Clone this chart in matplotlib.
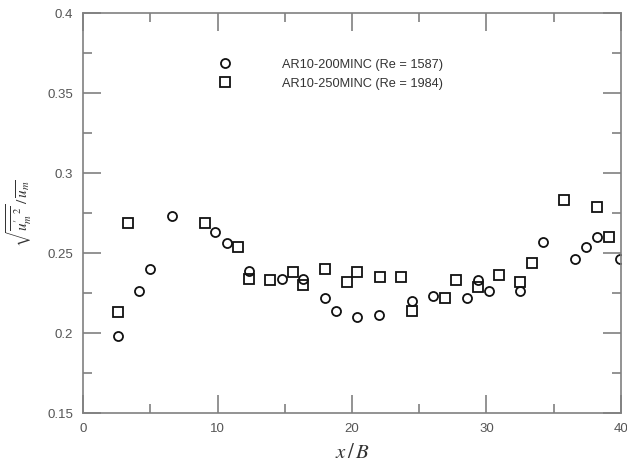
import matplotlib
matplotlib.use("Agg")
import matplotlib.pyplot as plt
from matplotlib.ticker import MultipleLocator, FormatStrFormatter

# AR10-200MINC, Re = 1587 (circles)
x_1587 = [2.6, 4.17, 5.01, 6.63, 9.85, 10.67, 12.33, 14.76, 16.37, 18.0, 18.8, 20.39,
          22.03, 24.48, 26.04, 28.53, 29.35, 30.19, 32.52, 34.23, 36.61, 37.38, 38.2, 39.93]
y_1587 = [0.198, 0.226, 0.240, 0.273, 0.263, 0.256, 0.239, 0.234, 0.234, 0.222, 0.214, 0.210,
          0.211, 0.220, 0.223, 0.222, 0.233, 0.226, 0.226, 0.257, 0.246, 0.254, 0.260, 0.246]

# AR10-250MINC, Re = 1984 (squares)
x_1984 = [2.6, 3.35, 9.05, 11.49, 12.33, 13.89, 15.58, 16.32, 18.0, 19.6, 20.39, 22.07,
          23.66, 24.48, 26.91, 27.73, 29.35, 30.95, 32.52, 33.39, 35.79, 38.25, 39.09]
y_1984 = [0.213, 0.269, 0.269, 0.2535, 0.234, 0.233, 0.238, 0.230, 0.240, 0.232, 0.238, 0.235,
          0.235, 0.214, 0.222, 0.233, 0.229, 0.236, 0.232, 0.244, 0.283, 0.279, 0.260]

label_1587 = "AR10-200MINC (Re = 1587)"
label_1984 = "AR10-250MINC (Re = 1984)"

plt.rcParams["font.family"] = ["Liberation Sans", "DejaVu Sans"]

fig = plt.figure(figsize=(6.27, 4.66), dpi=100)
ax = fig.add_axes([0.1324, 0.1137, 0.858, 0.8584])

mk = dict(linestyle="none", markerfacecolor="none", markeredgecolor="#111111",
          markeredgewidth=1.3, markersize=6.5)
ax.plot(x_1587, y_1587, marker="o", label=label_1587, **mk)
ax.plot(x_1984, y_1984, marker="s", label=label_1984, **mk)

ax.set_xlim(0, 40)
ax.set_ylim(0.15, 0.4)
ax.xaxis.set_major_locator(MultipleLocator(10))
ax.xaxis.set_minor_locator(MultipleLocator(5))
ax.yaxis.set_major_locator(MultipleLocator(0.05))
ax.yaxis.set_minor_locator(MultipleLocator(0.025))
ax.yaxis.set_major_formatter(FormatStrFormatter("%g"))

axis_grey = "#808080"
for s in ax.spines.values():
    s.set_color(axis_grey)
    s.set_linewidth(1.2)
ax.tick_params(which="both", direction="in", top=True, right=True,
               color=axis_grey, width=1.2, labelcolor="#555555", labelsize=9.5)
ax.tick_params(which="major", length=13, pad=7)
ax.tick_params(which="minor", length=6.5)

ax.set_xlabel(r"$x\,/\,B$", fontsize=15, math_fontfamily="stix", color="#333333")
ax.xaxis.label.set_va("center")
ax.xaxis.set_label_coords(0.5, -0.0975)

ax.set_ylabel(r"$\sqrt{\overline{u_m'^{\,2}}}\,/\,\overline{u_m}$", fontsize=11,
              math_fontfamily="stix", color="#333333")
ax.yaxis.label.set_va("center")
ax.yaxis.set_label_coords(-0.119, 0.5)

ax.legend(loc="upper left", bbox_to_anchor=(0.339, 0.888), bbox_transform=fig.transFigure,
          frameon=False, borderpad=0, handlelength=1.0, handletextpad=3.95,
          labelspacing=0.56, fontsize=9.2, labelcolor="#333333")

fig.savefig("out.png", dpi=100)
